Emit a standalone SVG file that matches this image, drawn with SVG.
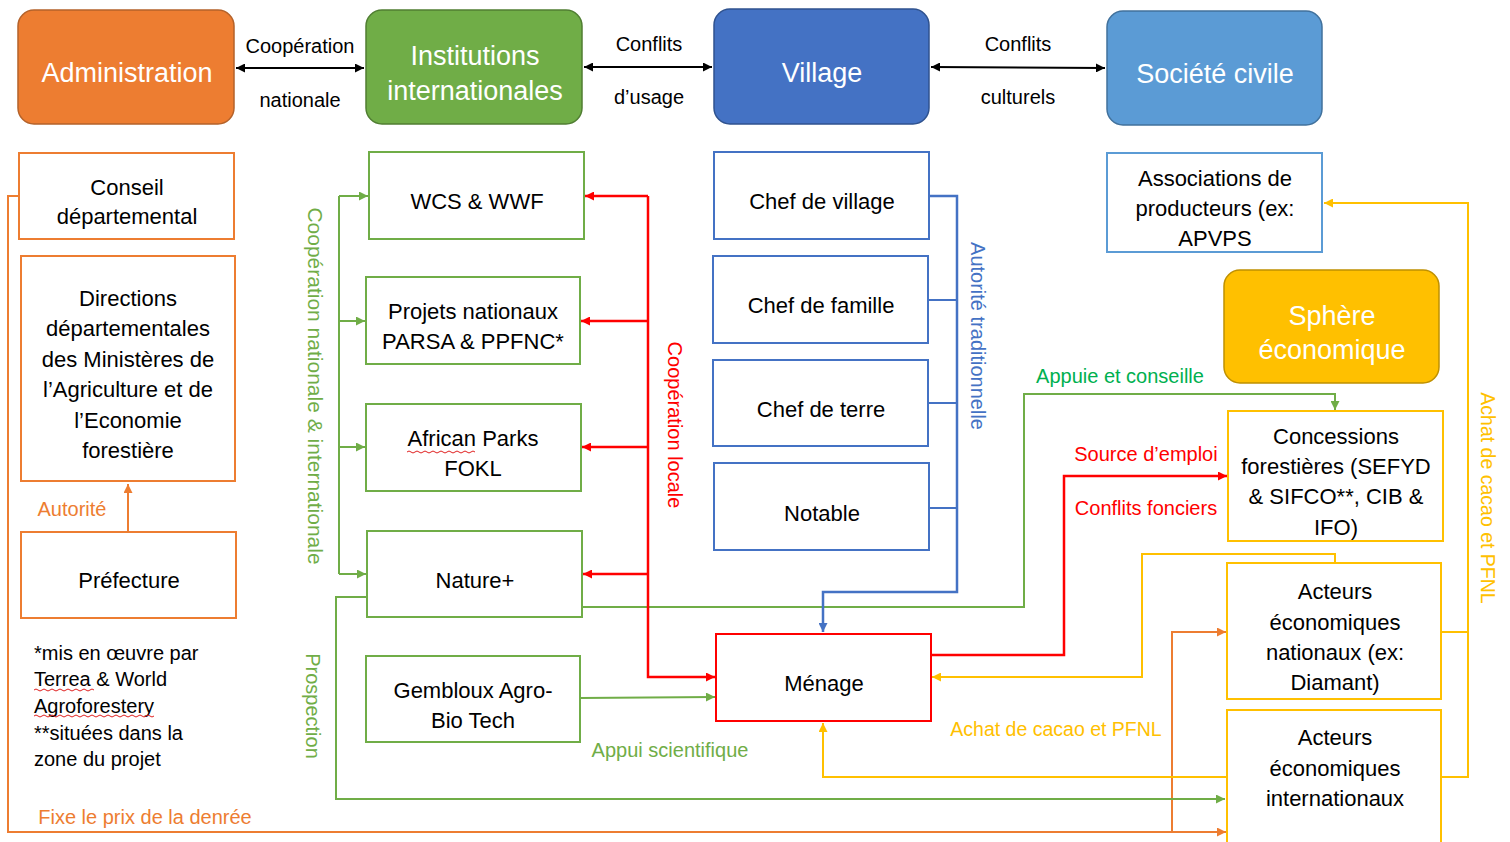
<svg xmlns="http://www.w3.org/2000/svg" width="1510" height="842" viewBox="0 0 1510 842">
<style>
text{font-family:"Liberation Sans",Arial,sans-serif;text-anchor:middle;dominant-baseline:central}
.hd{fill:#fff;font-size:27px}
.bt{fill:#000;font-size:22px}
.lb{fill:#000;font-size:20px}
.nt{fill:#000;font-size:20px;text-anchor:start}
.or{fill:#ED7D31;font-size:20px}
.gr{fill:#70AD47;font-size:20px}
.gr2{fill:#00B050;font-size:20px}
.rd{fill:#FF0000;font-size:20px}
.bl{fill:#4472C4;font-size:20px}
.ye{fill:#FFC000;font-size:19.5px}
.bx{fill:#fff;stroke-width:2}
.c{fill:none;stroke-width:2}
.k{stroke:#000;stroke-width:2.2}
.o{stroke:#ED7D31}
.g{stroke:#70AD47}
.r{stroke:#FF0000;stroke-width:2.5}
.b{stroke:#4472C4;stroke-width:2.5}
.y{stroke:#FFC000}
.wv{fill:none;stroke:#E02020;stroke-width:1}
</style>
<defs>
<marker id="ak" viewBox="0 0 10 10" refX="10" refY="5" markerWidth="10" markerHeight="9" markerUnits="userSpaceOnUse" orient="auto-start-reverse"><path d="M0,0L10,5L0,10z" fill="#000"/></marker>
<marker id="ao" viewBox="0 0 10 10" refX="10" refY="5" markerWidth="10" markerHeight="9" markerUnits="userSpaceOnUse" orient="auto"><path d="M0,0L10,5L0,10z" fill="#ED7D31"/></marker>
<marker id="ag" viewBox="0 0 10 10" refX="10" refY="5" markerWidth="10" markerHeight="9" markerUnits="userSpaceOnUse" orient="auto"><path d="M0,0L10,5L0,10z" fill="#70AD47"/></marker>
<marker id="ar" viewBox="0 0 10 10" refX="10" refY="5" markerWidth="10" markerHeight="9" markerUnits="userSpaceOnUse" orient="auto"><path d="M0,0L10,5L0,10z" fill="#FF0000"/></marker>
<marker id="ab" viewBox="0 0 10 10" refX="10" refY="5" markerWidth="10" markerHeight="9" markerUnits="userSpaceOnUse" orient="auto"><path d="M0,0L10,5L0,10z" fill="#4472C4"/></marker>
<marker id="ay" viewBox="0 0 10 10" refX="10" refY="5" markerWidth="10" markerHeight="9" markerUnits="userSpaceOnUse" orient="auto"><path d="M0,0L10,5L0,10z" fill="#FFC000"/></marker>
</defs>
<rect width="1510" height="842" fill="#fff"/>

<g id="connectors">
<path class="c k" d="M236,68H364" marker-start="url(#ak)" marker-end="url(#ak)"/>
<path class="c k" d="M584,67H712" marker-start="url(#ak)" marker-end="url(#ak)"/>
<path class="c k" d="M931,67L1105,68" marker-start="url(#ak)" marker-end="url(#ak)"/>
<path class="c o" d="M128,531V484" marker-end="url(#ao)"/>
<path class="c o" d="M19,196H8V832H1226" marker-end="url(#ao)"/>
<path class="c o" d="M1172,832V632H1226" marker-end="url(#ao)"/>
<path class="c g" d="M339,196V574"/>
<path class="c g" d="M339,196H368" marker-end="url(#ag)"/>
<path class="c g" d="M339,321H365" marker-end="url(#ag)"/>
<path class="c g" d="M339,447H365" marker-end="url(#ag)"/>
<path class="c g" d="M339,574H366" marker-end="url(#ag)"/>
<path class="c g" d="M367,597H336V799H1225" marker-end="url(#ag)"/>
<path class="c g" d="M582,607H1024V394H1335V410" marker-end="url(#ag)"/>
<path class="c g" d="M580,698L715,697" marker-end="url(#ag)"/>
<path class="c r" d="M648,196V677H715" marker-end="url(#ar)"/>
<path class="c r" d="M648,196H585" marker-end="url(#ar)"/>
<path class="c r" d="M648,321H581" marker-end="url(#ar)"/>
<path class="c r" d="M648,447H582" marker-end="url(#ar)"/>
<path class="c r" d="M648,574H583" marker-end="url(#ar)"/>
<path class="c r" d="M931,655H1064V476H1227" marker-end="url(#ar)"/>
<path class="c b" d="M929,196H957V592H823V632" marker-end="url(#ab)"/>
<path class="c b" style="stroke-width:1.8" d="M928,300H957M928,403H957M929,508H957"/>
<path class="c y" d="M1441,632H1468M1441,777H1468V203H1324" marker-end="url(#ay)"/>
<path class="c y" d="M1335,563V554H1142V677H932" marker-end="url(#ay)"/>
<path class="c y" d="M1227,777H823V723" marker-end="url(#ay)"/>
</g>

<g id="labels">
<text class="lb" x="300" y="46">Coopération</text>
<text class="lb" x="300" y="100">nationale</text>
<text class="lb" x="649" y="44">Conflits</text>
<text class="lb" x="649" y="97">d’usage</text>
<text class="lb" x="1018" y="44">Conflits</text>
<text class="lb" x="1018" y="97">culturels</text>
<text class="or" x="72" y="509">Autorité</text>
<text class="or" x="145" y="817">Fixe le prix de la denrée</text>
<text class="gr" transform="translate(315,386) rotate(90)" style="font-size:21px">Coopération nationale &amp; internationale</text>
<text class="gr" transform="translate(313,706) rotate(90)">Prospection</text>
<text class="rd" transform="translate(675,425) rotate(90)">Coopération locale</text>
<text class="bl" transform="translate(978,336) rotate(90)">Autorité traditionnelle</text>
<text class="ye" transform="translate(1488,498) rotate(90)">Achat de cacao et PFNL</text>
<text class="gr2" x="1120" y="376">Appuie et conseille</text>
<text class="rd" x="1146" y="454">Source d’emploi</text>
<text class="rd" x="1146" y="508">Conflits fonciers</text>
<text class="gr" x="670" y="750">Appui scientifique</text>
<text class="ye" x="1056" y="729">Achat de cacao et PFNL</text>
</g>

<g id="administration">
<rect x="18" y="10" width="216" height="114" rx="16" fill="#ED7D31" stroke="#B4622A" stroke-width="1.5"/>
<text class="hd" x="127" y="73">Administration</text>
</g>
<g id="institutions">
<rect x="366" y="10" width="216" height="114" rx="16" fill="#70AD47" stroke="#507E32" stroke-width="1.5"/>
<text class="hd" x="475" y="56">Institutions</text>
<text class="hd" x="475" y="91">internationales</text>
</g>
<g id="village">
<rect x="714" y="9" width="215" height="115" rx="16" fill="#4472C4" stroke="#2F528F" stroke-width="1.5"/>
<text class="hd" x="822" y="73">Village</text>
</g>
<g id="societe-civile">
<rect x="1107" y="11" width="215" height="114" rx="16" fill="#5B9BD5" stroke="#41719C" stroke-width="1.5"/>
<text class="hd" x="1215" y="74">Société civile</text>
</g>

<g id="conseil">
<rect class="bx" x="19" y="153" width="215" height="86" stroke="#ED7D31"/>
<text class="bt" x="127" y="187">Conseil</text>
<text class="bt" x="127" y="216">départemental</text>
</g>
<g id="directions">
<rect class="bx" x="21" y="256" width="214" height="225" stroke="#ED7D31"/>
<text class="bt" x="128" y="298">Directions</text>
<text class="bt" x="128" y="328">départementales</text>
<text class="bt" x="128" y="359">des Ministères de</text>
<text class="bt" x="128" y="389">l’Agriculture et de</text>
<text class="bt" x="128" y="420">l’Economie</text>
<text class="bt" x="128" y="450">forestière</text>
</g>
<g id="prefecture">
<rect class="bx" x="21" y="532" width="215" height="86" stroke="#ED7D31"/>
<text class="bt" x="129" y="580">Préfecture</text>
</g>
<g id="note">
<text class="nt" x="34" y="653">*mis en œuvre par</text>
<text class="nt" x="34" y="679">Terrea &amp; World</text>
<text class="nt" x="34" y="706">Agroforestery</text>
<text class="nt" x="34" y="733">**situées dans la</text>
<text class="nt" x="34" y="759">zone du projet</text>
<path class="wv" d="M34,690q2,-2 4,0t4,0t4,0t4,0t4,0t4,0t4,0t4,0t4,0t4,0t4,0t4,0t4,0t4,0t4,0"/>
<path class="wv" d="M34,716q2,-2 4,0t4,0t4,0t4,0t4,0t4,0t4,0t4,0t4,0t4,0t4,0t4,0t4,0t4,0t4,0t4,0t4,0t4,0t4,0t4,0t4,0t4,0t4,0t4,0t4,0t4,0t4,0t4,0t4,0t4,0"/>
</g>

<g id="wcs">
<rect class="bx" x="369" y="152" width="215" height="87" stroke="#70AD47"/>
<text class="bt" x="477" y="201">WCS &amp; WWF</text>
</g>
<g id="projets">
<rect class="bx" x="366" y="277" width="214" height="87" stroke="#70AD47"/>
<text class="bt" x="473" y="311">Projets nationaux</text>
<text class="bt" x="473" y="341">PARSA &amp; PPFNC*</text>
</g>
<g id="african-parks">
<rect class="bx" x="366" y="404" width="215" height="87" stroke="#70AD47"/>
<text class="bt" x="473" y="438">African Parks</text>
<text class="bt" x="473" y="468">FOKL</text>
<path class="wv" d="M407,452q2,-2 4,0t4,0t4,0t4,0t4,0t4,0t4,0t4,0t4,0t4,0t4,0t4,0t4,0t4,0t4,0t4,0t4,0"/>
</g>
<g id="nature">
<rect class="bx" x="367" y="531" width="215" height="86" stroke="#70AD47"/>
<text class="bt" x="475" y="580">Nature+</text>
</g>
<g id="gembloux">
<rect class="bx" x="366" y="656" width="214" height="86" stroke="#70AD47"/>
<text class="bt" x="473" y="690">Gembloux Agro-</text>
<text class="bt" x="473" y="720">Bio Tech</text>
</g>

<g id="chef-village">
<rect class="bx" x="714" y="152" width="215" height="87" stroke="#4472C4"/>
<text class="bt" x="822" y="201">Chef de village</text>
</g>
<g id="chef-famille">
<rect class="bx" x="713" y="256" width="215" height="87" stroke="#4472C4"/>
<text class="bt" x="821" y="305">Chef de famille</text>
</g>
<g id="chef-terre">
<rect class="bx" x="713" y="360" width="215" height="86" stroke="#4472C4"/>
<text class="bt" x="821" y="409">Chef de terre</text>
</g>
<g id="notable">
<rect class="bx" x="714" y="463" width="215" height="87" stroke="#4472C4"/>
<text class="bt" x="822" y="513">Notable</text>
</g>
<g id="menage">
<rect class="bx" x="716" y="634" width="215" height="87" stroke="#FF0000" stroke-width="2.5"/>
<text class="bt" x="824" y="683">Ménage</text>
</g>

<g id="associations">
<rect class="bx" x="1107" y="153" width="215" height="99" stroke="#5B9BD5"/>
<text class="bt" x="1215" y="178">Associations de</text>
<text class="bt" x="1215" y="208">producteurs (ex:</text>
<text class="bt" x="1215" y="238">APVPS</text>
</g>
<g id="sphere">
<rect x="1224" y="270" width="215" height="113" rx="16" fill="#FFC000" stroke="#BF9000" stroke-width="1.5"/>
<text class="hd" x="1332" y="316">Sphère</text>
<text class="hd" x="1332" y="350">économique</text>
</g>
<g id="concessions">
<rect class="bx" x="1228" y="411" width="215" height="130" stroke="#FFC000"/>
<text class="bt" x="1336" y="436">Concessions</text>
<text class="bt" x="1336" y="466">forestières (SEFYD</text>
<text class="bt" x="1336" y="496">&amp; SIFCO**, CIB &amp;</text>
<text class="bt" x="1336" y="527">IFO)</text>
</g>
<g id="acteurs-nationaux">
<rect class="bx" x="1227" y="563" width="214" height="136" stroke="#FFC000"/>
<text class="bt" x="1335" y="591">Acteurs</text>
<text class="bt" x="1335" y="622">économiques</text>
<text class="bt" x="1335" y="652">nationaux (ex:</text>
<text class="bt" x="1335" y="682">Diamant)</text>
</g>
<g id="acteurs-internationaux">
<rect class="bx" x="1227" y="710" width="214" height="140" stroke="#FFC000"/>
<text class="bt" x="1335" y="737">Acteurs</text>
<text class="bt" x="1335" y="768">économiques</text>
<text class="bt" x="1335" y="798">internationaux</text>
</g>
</svg>
